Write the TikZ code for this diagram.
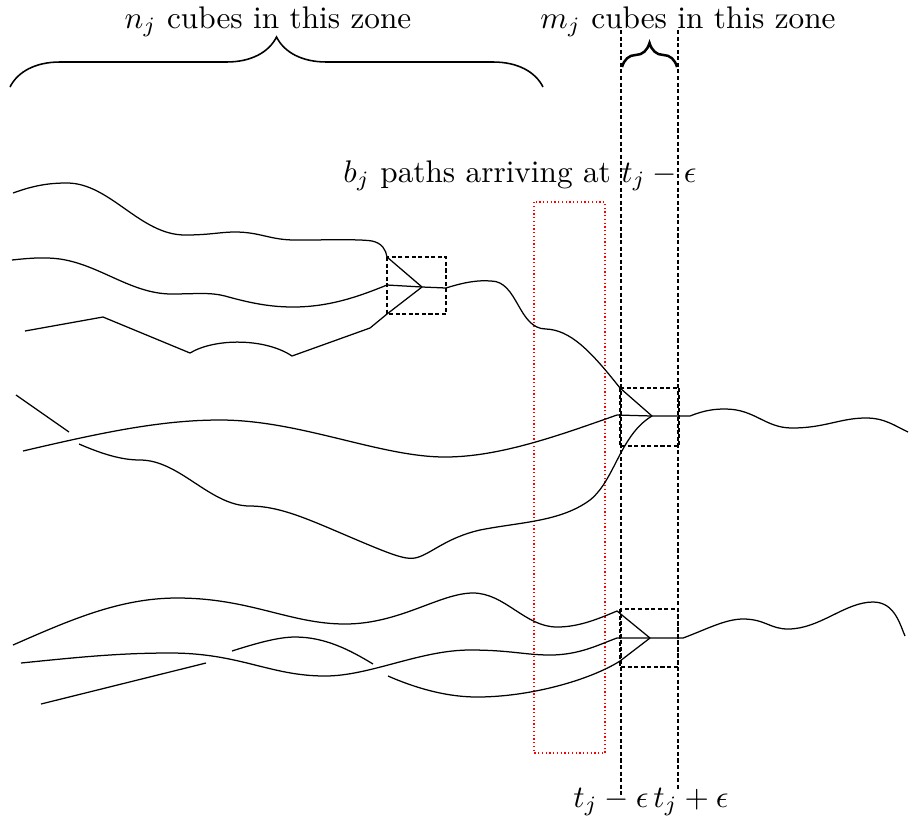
\documentclass[tikz,border=0pt]{standalone}
\usetikzlibrary{decorations.pathreplacing}
\begin{document}
\begin{tikzpicture}[x=32pt, y=-32pt, every node/.style={anchor=base},
    cube/.style={dash pattern=on 1.3pt off 0.8pt},
    window/.style={red, dash pattern=on 0.4pt off 0.8pt}]
    \useasboundingbox (0,0) rectangle (9.09,8.21);

    \node (nzone) at (2.68,0.28) {$n_j$ cubes in this zone};
    \node (mzone) at (6.88,0.28) {$m_j$ cubes in this zone};
    \node (arrive) at (5.20,1.82) {$b_j$ paths arriving at $t_j-\epsilon$};
    \node (lo) at (6.11,8.07) {$t_j-\epsilon$};
    \node (hi) at (6.91,8.07) {$t_j+\epsilon$};

    \draw[decorate, decoration={brace, amplitude=16pt}, line width=0.5pt] (0.10,0.87) -- (5.43,0.87);
    \draw[decorate, decoration={brace, amplitude=7.7pt}, line width=0.8pt] (6.22,0.67) -- (6.77,0.67);

    \draw[cube] (6.21,0.30) -- (6.21,7.97);
    \draw[cube] (6.78,0.30) -- (6.78,7.90);
    \draw[window] (5.34,2.02) rectangle (6.05,7.53);

    \coordinate (m1) at (4.22,2.87);
    \coordinate (m2) at (6.52,4.16);
    \coordinate (m3) at (6.50,6.38);

    \draw[cube] (3.87,2.57) rectangle (4.46,3.14);
    \draw[cube] (6.20,3.88) rectangle (6.79,4.46);
    \draw[cube] (6.20,6.09) rectangle (6.78,6.67);

    \draw (0.13,1.93) .. controls (0.35,1.85) and (0.50,1.83) .. (0.67,1.83)
        .. controls (1.10,1.83) and (1.40,2.35) .. (1.85,2.35)
        .. controls (2.10,2.35) and (2.20,2.32) .. (2.35,2.32)
        .. controls (2.60,2.32) and (2.70,2.40) .. (2.95,2.40)
        .. controls (3.30,2.40) and (3.60,2.39) .. (3.72,2.41)
        .. controls (3.82,2.43) and (3.86,2.50) .. (3.87,2.57) -- (m1);
    \draw (0.12,2.60) .. controls (0.30,2.58) and (0.45,2.57) .. (0.60,2.59)
        .. controls (1.00,2.65) and (1.30,2.93) .. (1.70,2.94)
        .. controls (1.95,2.94) and (2.10,2.92) .. (2.25,2.96)
        .. controls (2.50,3.03) and (2.70,3.07) .. (2.93,3.07)
        .. controls (3.30,3.07) and (3.60,2.96) .. (3.87,2.85) -- (m1);
    \draw (0.25,3.31) -- (1.03,3.17) -- (1.90,3.53) .. controls (2.15,3.38) and (2.65,3.38) .. (2.92,3.56) -- (3.70,3.28) -- (3.87,3.14) -- (m1);
    \draw (m1) -- (4.46,2.88) .. controls (4.65,2.82) and (4.78,2.80) .. (4.91,2.81)
        .. controls (5.18,2.81) and (5.18,3.29) .. (5.46,3.29)
        .. controls (5.70,3.30) and (5.90,3.50) .. (6.20,3.88) -- (m2);

    \draw (0.16,3.95) -- (0.69,4.32);
    \draw (0.23,4.51) .. controls (1.00,4.33) and (1.60,4.20) .. (2.20,4.20)
        .. controls (3.00,4.20) and (3.80,4.57) .. (4.45,4.57)
        .. controls (5.00,4.57) and (5.60,4.35) .. (6.17,4.15) -- (m2);
    \draw (0.79,4.44) .. controls (1.00,4.53) and (1.20,4.60) .. (1.40,4.60)
        .. controls (1.80,4.60) and (2.10,5.06) .. (2.50,5.06)
        .. controls (2.80,5.06) and (3.10,5.20) .. (3.50,5.37)
        .. controls (3.90,5.54) and (4.05,5.60) .. (4.15,5.58)
        .. controls (4.30,5.55) and (4.45,5.38) .. (4.80,5.30)
        .. controls (5.20,5.22) and (5.60,5.22) .. (5.90,5.00)
        .. controls (6.15,4.80) and (6.20,4.35) .. (m2);
    \draw (m2) -- (6.90,4.16) .. controls (7.05,4.10) and (7.15,4.09) .. (7.25,4.09)
        .. controls (7.55,4.09) and (7.65,4.28) .. (7.92,4.28)
        .. controls (8.25,4.28) and (8.40,4.18) .. (8.66,4.18)
        .. controls (8.85,4.18) and (8.95,4.26) .. (9.08,4.32);

    \draw (0.13,6.45) .. controls (0.70,6.20) and (1.20,5.98) .. (1.77,5.98)
        .. controls (2.50,5.98) and (2.90,6.24) .. (3.45,6.24)
        .. controls (4.00,6.24) and (4.40,5.93) .. (4.73,5.93)
        .. controls (5.05,5.93) and (5.25,6.27) .. (5.57,6.27)
        .. controls (5.80,6.27) and (6.00,6.18) .. (6.17,6.11) -- (m3);
    \draw (0.21,6.63) .. controls (0.80,6.57) and (1.20,6.53) .. (1.70,6.53)
        .. controls (2.40,6.53) and (2.70,6.76) .. (3.25,6.76)
        .. controls (3.70,6.76) and (4.20,6.50) .. (4.70,6.50)
        .. controls (5.10,6.50) and (5.25,6.55) .. (5.50,6.55)
        .. controls (5.80,6.55) and (6.00,6.44) .. (6.17,6.38) -- (m3);
    \draw (2.32,6.51) .. controls (2.60,6.42) and (2.80,6.37) .. (2.95,6.37)
        .. controls (3.25,6.37) and (3.50,6.50) .. (3.73,6.64);
    \draw (0.41,7.04) -- (2.06,6.63);
    \draw (3.88,6.76) .. controls (4.20,6.90) and (4.50,6.97) .. (4.77,6.97)
        .. controls (5.30,6.97) and (5.90,6.80) .. (6.20,6.61) -- (m3);
    \draw (m3) -- (6.83,6.38) .. controls (7.05,6.30) and (7.25,6.19) .. (7.43,6.19)
        .. controls (7.65,6.19) and (7.70,6.29) .. (7.88,6.29)
        .. controls (8.20,6.29) and (8.45,6.02) .. (8.73,6.02)
        .. controls (8.95,6.02) and (9.00,6.25) .. (9.05,6.36);
\end{tikzpicture}
\end{document}
